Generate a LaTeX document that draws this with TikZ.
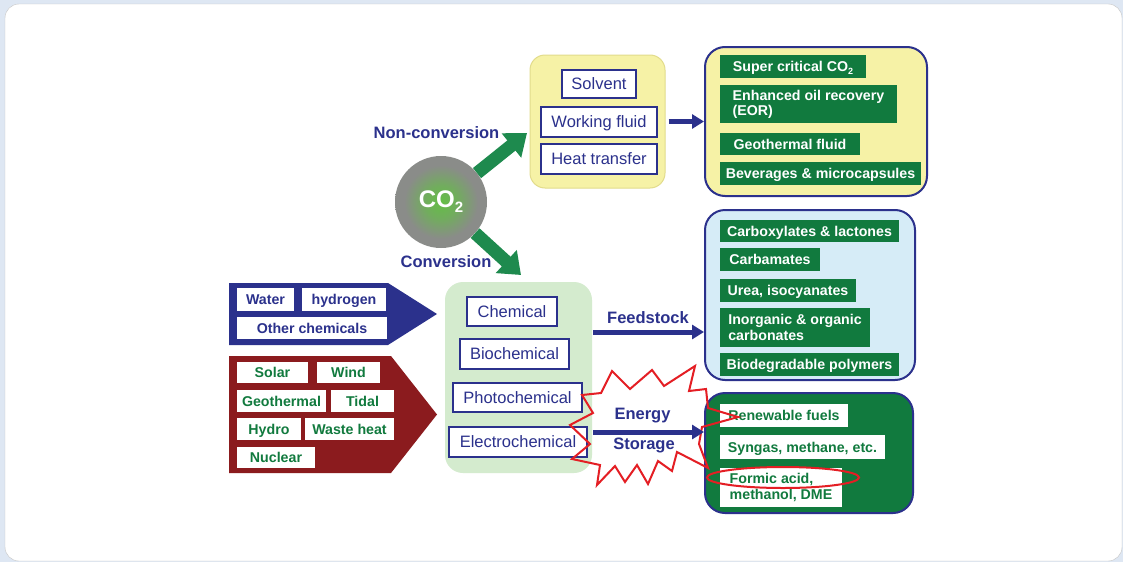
\documentclass[tikz,border=0pt]{standalone}
\usepackage{fontspec}
\setmainfont{Liberation Sans}
\usetikzlibrary{arrows.meta}
\definecolor{navy}{RGB}{43,49,140}
\definecolor{dkgreen}{RGB}{17,122,62}
\definecolor{agreen}{RGB}{30,138,78}
\definecolor{yfill}{RGB}{246,242,166}
\definecolor{yedge}{RGB}{226,220,140}
\definecolor{lblue}{RGB}{214,236,247}
\definecolor{lgreen}{RGB}{212,235,206}
\definecolor{dred}{RGB}{139,27,30}
\definecolor{sred}{RGB}{228,30,36}
\definecolor{bgblue}{RGB}{222,231,243}
\definecolor{cgray}{RGB}{138,140,137}
\definecolor{cglow}{RGB}{100,190,70}
\pgfdeclareradialshading{coglow}{\pgfpoint{0bp}{0bp}}{color(0bp)=(cglow); color(9bp)=(cglow!65!cgray); color(20bp)=(cgray); color(50bp)=(cgray)}
\newcommand\fsA{\fontsize{16.5}{19}\selectfont}
\newcommand\fsB{\fontsize{14.2}{15.2}\selectfont}
\begin{document}
\begin{tikzpicture}[x=1pt,y=-1pt,
  wbox/.style={draw=navy, line width=1.2pt, fill=white, text=navy, font=\fsA, inner sep=0pt, text height=11.8pt, text depth=0pt},
  gbox/.style={fill=dkgreen, text=white, font=\fsB\bfseries, inner sep=0pt, text height=10.2pt, text depth=0pt},
  wgbox/.style={fill=white, text=dkgreen, font=\fsB\bfseries, inner sep=0pt, text height=10.2pt, text depth=0pt},
  wnbox/.style={fill=white, text=navy, font=\fsB\bfseries, inner sep=0pt, text height=10.2pt, text depth=0pt},
  twoline/.style={align=left, text height=, text depth=},
  bigbox/.style={rounded corners=18pt, line width=2pt, inner sep=0pt},
  narrow/.style={draw=navy, line width=5pt, -{Triangle[length=12pt,width=14pt]}},
  garrow/.style={draw=agreen, line width=13pt, -{Triangle[length=20pt,width=30pt]}},
  lbl/.style={text=navy, font=\fsA\bfseries, inner sep=0pt}
]
\useasboundingbox (0,0) rectangle (1123,562);
% background frame
\fill[bgblue] (0,0) rectangle (1123,562);
\draw[gray!45, fill=white, rounded corners=14pt] (5,4) rectangle (1122,561);

% big containers
\node[bigbox, fill=yfill, draw=yedge, line width=1pt, rounded corners=15pt, minimum width=135pt, minimum height=133pt] (ybox) at (597.5,121.5) {};
\node[bigbox, fill=yfill, draw=navy, rounded corners=20pt, minimum width=222pt, minimum height=149pt] (trbox) at (816,121.5) {};
\node[bigbox, fill=lblue, draw=navy, rounded corners=20pt, minimum width=210pt, minimum height=170pt] (mbbox) at (810,295) {};
\node[bigbox, fill=dkgreen, draw=navy, rounded corners=20pt, minimum width=208pt, minimum height=120pt] (botbox) at (809,453) {};
\node[bigbox, fill=lgreen, minimum width=147pt, minimum height=191pt] (lgbox) at (518.5,377.5) {};

% yellow box contents
\node[wbox, minimum width=74pt, minimum height=28pt] (solvent) at (599,84) {Solvent};
\node[wbox, minimum width=116pt, minimum height=30pt] (working) at (599,122) {Working fluid};
\node[wbox, minimum width=116pt, minimum height=30pt] (heat) at (599,159) {Heat transfer};

% top right contents
\node[gbox, minimum width=146pt, minimum height=23pt] (scco2) at (793,66.5) {Super critical CO\raisebox{-0.35ex}{\fontsize{9}{9}\selectfont 2}};
\node[gbox, twoline, minimum width=177pt, minimum height=38pt] (eor) at (808.5,104) {Enhanced oil recovery\\(EOR)};
\node[gbox, minimum width=140pt, minimum height=22pt] (geof) at (790,144) {Geothermal fluid};
\node[gbox, minimum width=201pt, minimum height=23pt] (bev) at (820.5,173.5) {Beverages \& microcapsules};

% middle right contents
\node[gbox, minimum width=179pt, minimum height=22pt] (carbox) at (809.5,231) {Carboxylates \& lactones};
\node[gbox, minimum width=100pt, minimum height=23pt] (carbam) at (770,259.5) {Carbamates};
\node[gbox, minimum width=136pt, minimum height=23pt] (urea) at (788,290.5) {Urea, isocyanates};
\node[gbox, twoline, minimum width=150pt, minimum height=39pt] (inorg) at (795,327.5) {Inorganic \& organic\\carbonates};
\node[gbox, minimum width=179pt, minimum height=23pt] (biodeg) at (809.5,364.5) {Biodegradable polymers};

% bottom right contents
\node[wgbox, minimum width=128pt, minimum height=23pt] (renew) at (784,415.5) {Renewable fuels};
\node[wgbox, minimum width=165pt, minimum height=24pt] (syngas) at (802.5,447) {Syngas, methane, etc.};
\node[wgbox, twoline, minimum width=122pt, minimum height=39pt] (formic) at (781,487.5) {Formic acid,\\methanol, DME};

% light green box contents
\node[wbox, minimum width=90pt, minimum height=29pt] (chem) at (512,311.5) {Chemical};
\node[wbox, minimum width=109pt, minimum height=30pt] (biochem) at (514.5,354) {Biochemical};
\node[wbox, minimum width=129pt, minimum height=29pt] (photo) at (517.5,397.5) {Photochemical};
\node[wbox, minimum width=138pt, minimum height=30pt] (electro) at (518,442) {Electrochemical};

% left pentagon arrows
\fill[navy] (229,283) -- (388,283) -- (437,314) -- (388,345) -- (229,345) -- cycle;
\fill[dred] (229,356) -- (391,356) -- (437,414.5) -- (391,473) -- (229,473) -- cycle;
\node[wnbox, minimum width=57pt, minimum height=23pt] (water) at (265.5,299.5) {Water};
\node[wnbox, minimum width=84pt, minimum height=23pt] (hydrogen) at (344,299.5) {hydrogen};
\node[wnbox, minimum width=150pt, minimum height=22pt] (otherchem) at (312,328) {Other chemicals};
\node[wgbox, minimum width=71pt, minimum height=21pt] (solar) at (272.5,372.5) {Solar};
\node[wgbox, minimum width=63pt, minimum height=21pt] (wind) at (348.5,372.5) {Wind};
\node[wgbox, minimum width=89pt, minimum height=22pt] (geoth) at (281.5,401) {Geothermal};
\node[wgbox, minimum width=63pt, minimum height=22pt] (tidal) at (362.5,401) {Tidal};
\node[wgbox, minimum width=64pt, minimum height=22pt] (hydro) at (269,429) {Hydro};
\node[wgbox, minimum width=89pt, minimum height=22pt] (waste) at (349.5,429) {Waste heat};
\node[wgbox, minimum width=78pt, minimum height=21pt] (nuclear) at (276,457.5) {Nuclear};

% CO2 circle
\node[circle, minimum size=92pt, inner sep=0pt, shading=coglow, text=white,
      font=\fontsize{24}{24}\selectfont\bfseries] (co2) at (441,202)
      {CO\raisebox{-0.4ex}{\fontsize{15}{15}\selectfont 2}};
\coordinate (nctip) at (527,133);
\coordinate (ctip) at (521,275);
\draw[garrow] (co2) -- (nctip);
\draw[garrow] (co2) -- (ctip);
\node[lbl] (nonconv) at (436.5,133) {Non-conversion};
\node[lbl] (conv) at (446,262) {Conversion};

% starburst
\draw[sred, line width=2pt, line join=miter]
  (582,395) -- (601,393) -- (612,371) -- (630,389) -- (652,370) -- (664,386)
  -- (695,366) -- (689,391) -- (706,389) -- (708,408) -- (738,417) -- (702,427)
  -- (699,444) -- (708,468) -- (677,452) -- (672,471) -- (658,461) -- (648,484)
  -- (637,465) -- (625,482) -- (615,466) -- (597,485) -- (600,465) -- (572,459)
  -- (590,444) -- (570,425) -- (593,413) -- cycle;

% ellipse around formic acid
\draw[sred, line width=2pt] (783,477.5) ellipse [x radius=76pt, y radius=10.5pt];

% connectors
\coordinate (fsy) at (0,332);
\coordinate (esy) at (0,432);
\draw[narrow] ([xshift=3pt]ybox.east) -- (trbox.west);
\draw[narrow] (lgbox.east |- fsy) -- (mbbox.west |- fsy);
\draw[narrow] (lgbox.east |- esy) -- (botbox.west |- esy);
\node[lbl] (feed) at (648,318) {Feedstock};
\node[lbl] (energy) at (642.5,416) {Energy};
\node[lbl] (storage) at (644,445) {Storage};
\end{tikzpicture}
\end{document}
